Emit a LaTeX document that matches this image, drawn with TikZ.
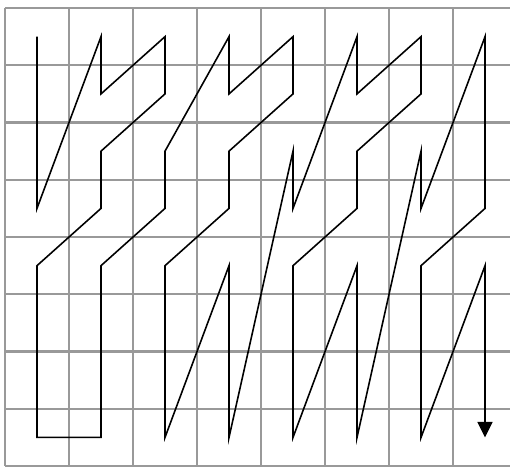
\documentclass[tikz,border=0pt]{standalone}
\usepackage{xcolor}
\usetikzlibrary{arrows.meta}
\colorlet{gridgray}{black!40}
\begin{document}
\begin{tikzpicture}[
    x=1.28cm, y=-1.145cm,
    gridline/.style={draw=gridgray, line width=1.3pt},
    zigzag/.style={draw, line width=0.9pt}
  ]
  \useasboundingbox (-0.078,-0.14) rectangle (7.89,8);
  \foreach \i in {0,...,8} {
    \draw[gridline] (\i,0) -- (\i,8);
    \draw[gridline] (0,\i) -- (8,\i);
  }
  \foreach \c in {0,...,7}
    \foreach \r in {0,...,7}
      \coordinate (p\c\r) at (\c+0.5,\r+0.5);
  \draw[zigzag, -{Triangle[length=3.1mm, width=3mm]}]
    (p00) -- (p03) -- (p10) -- (p11) -- (p20) -- (p21) -- (p12) -- (p13)
    -- (p04) -- (p07) -- (p17) -- (p14) -- (p23) -- (p22) -- (p30) -- (p31)
    -- (p40) -- (p41) -- (p32) -- (p33) -- (p24) -- (p27) -- (p34) -- (p37)
    -- (p42) -- (p43) -- (p50) -- (p51) -- (p60) -- (p61) -- (p52) -- (p53)
    -- (p44) -- (p47) -- (p54) -- (p57) -- (p62) -- (p63) -- (p70) -- (p73)
    -- (p64) -- (p67) -- (p74) -- (p77);
\end{tikzpicture}
\end{document}
